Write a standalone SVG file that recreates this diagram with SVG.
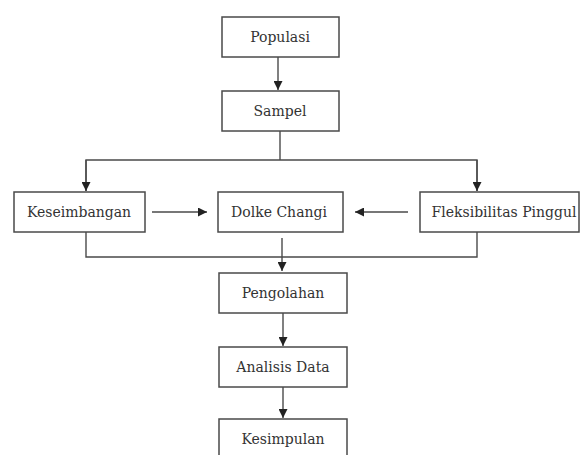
<svg xmlns="http://www.w3.org/2000/svg" width="581" height="455" viewBox="0 0 581 455">
<style>
.box{fill:#fff;stroke:#4a4a4a;stroke-width:1.5}
.lbl{font-family:'DejaVu Serif',serif;font-size:14px;fill:#333;text-anchor:middle}
.ln{fill:none;stroke:#4a4a4a;stroke-width:1.4}
</style>
<defs>
<marker id="ah" viewBox="0 0 10 10" refX="10" refY="5" markerWidth="9" markerHeight="9" markerUnits="userSpaceOnUse" orient="auto">
<path d="M0,0 L10,5 L0,10 Z" fill="#222"/>
</marker>
</defs>
<rect width="581" height="455" fill="#fff"/>
<g id="connectors">
<line class="ln" x1="278" y1="57" x2="278" y2="90" marker-end="url(#ah)"/>
<polyline class="ln" points="280,131 280,160"/>
<polyline class="ln" points="86,191 86,160 477,160 477,191"/>
<line class="ln" x1="86" y1="160" x2="86" y2="191" marker-end="url(#ah)"/>
<line class="ln" x1="477" y1="160" x2="477" y2="191" marker-end="url(#ah)"/>
<line class="ln" x1="152" y1="212" x2="207" y2="212" marker-end="url(#ah)"/>
<line class="ln" x1="408" y1="212" x2="355" y2="212" marker-end="url(#ah)"/>
<polyline class="ln" points="86,232 86,257 477,257 477,232"/>
<line class="ln" x1="282" y1="238" x2="282" y2="271" marker-end="url(#ah)"/>
<line class="ln" x1="283" y1="313" x2="283" y2="346" marker-end="url(#ah)"/>
<line class="ln" x1="283" y1="387" x2="283" y2="418" marker-end="url(#ah)"/>
</g>
<g id="populasi"><rect class="box" x="222" y="17" width="117" height="40"/><text class="lbl" x="280" y="42">Populasi</text></g>
<g id="sampel"><rect class="box" x="222" y="91" width="117" height="40"/><text class="lbl" x="280" y="116">Sampel</text></g>
<g id="keseimbangan"><rect class="box" x="14" y="192" width="131" height="40"/><text class="lbl" x="79" y="217">Keseimbangan</text></g>
<g id="dolke"><rect class="box" x="218" y="192" width="125" height="40"/><text class="lbl" x="279" y="217">Dolke Changi</text></g>
<g id="fleksibilitas"><rect class="box" x="420" y="192" width="159" height="40"/><text class="lbl" x="504" y="217">Fleksibilitas Pinggul</text></g>
<g id="pengolahan"><rect class="box" x="219" y="273" width="128" height="40"/><text class="lbl" x="283" y="298">Pengolahan</text></g>
<g id="analisis"><rect class="box" x="219" y="347" width="128" height="40"/><text class="lbl" x="283" y="372">Analisis Data</text></g>
<g id="kesimpulan"><rect class="box" x="219" y="419" width="128" height="40"/><text class="lbl" x="283" y="444">Kesimpulan</text></g>
</svg>
